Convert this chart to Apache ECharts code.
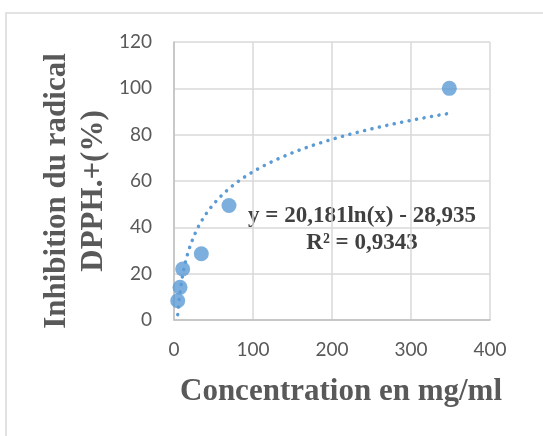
<!DOCTYPE html>
<html>
<head>
<meta charset="utf-8">
<script src="https://cdn.jsdelivr.net/npm/echarts@6/dist/echarts.min.js"></script>
<style>
html, body { margin: 0; padding: 0; background: #fff; }
#chart { width: 543px; height: 436px; }
</style>
</head>
<body>
<div id="chart"></div>
<script>
// concentrations (mg/ml) and inhibition (%)
var concentrations = [4.7, 7.6, 11, 34.6, 69.6, 348.5];
var inhibition = [8.3, 14.1, 22, 28.6, 49.4, 100];
var xTicks = [0, 100, 200, 300, 400];
var yTicks = [0, 20, 40, 60, 80, 100, 120];
// logarithmic trendline, from the equation shown on the chart
var trendCoef = [20.181, -28.935];
var eqText = 'y = 20,181ln(x) - 28,935';
var r2Text = 'R² = 0,9343';
var xTitle = 'Concentration en mg/ml';
var yTitle = ['Inhibition du radical', 'DPPH.+(%)'];

var points = [];
for (var i = 0; i < concentrations.length; i++) {
    points.push([concentrations[i], inhibition[i]]);
}

var xmin = Math.min.apply(null, concentrations);
var xmax = Math.max.apply(null, concentrations);
var trend = [];
for (var k = 0; k <= 200; k++) {
    var x = xmin + (xmax - xmin) * k / 200;
    trend.push([x, trendCoef[0] * Math.log(x) + trendCoef[1]]);
}

var titleFont = { fontFamily: 'Liberation Serif', fontWeight: 'bold', fontSize: 31, fill: '#595959', align: 'center', verticalAlign: 'middle' };
var eqFont = { fontFamily: 'Liberation Serif', fontWeight: 'bold', fontSize: 23, fill: '#404040', align: 'center', verticalAlign: 'middle' };

var chart = echarts.init(document.getElementById('chart'));
chart.setOption({
    animation: false,
    backgroundColor: '#fff',
    grid: { left: 174, right: 53, top: 42, bottom: 116 },
    xAxis: {
        type: 'value',
        min: xTicks[0],
        max: xTicks[xTicks.length - 1],
        interval: 100,
        axisLine: { show: true, lineStyle: { color: '#bfbfbf', width: 1.5 } },
        axisTick: { show: false },
        axisLabel: { fontFamily: 'Lato', fontSize: 19, color: '#595959', margin: 20 },
        splitLine: { show: true, lineStyle: { color: '#d9d9d9', width: 1.5 } }
    },
    yAxis: {
        type: 'value',
        min: yTicks[0],
        max: yTicks[yTicks.length - 1],
        interval: 20,
        axisLine: { show: true, lineStyle: { color: '#bfbfbf', width: 1.5 } },
        axisTick: { show: false },
        axisLabel: { fontFamily: 'Lato', fontSize: 19, color: '#595959', margin: 22 },
        splitLine: { show: true, lineStyle: { color: '#d9d9d9', width: 1.5 } }
    },
    series: [
        {
            type: 'line',
            data: trend,
            showSymbol: false,
            symbol: 'none',
            silent: true,
            lineStyle: { color: '#5b9bd5', width: 3.5, type: [0.1, 7.5], cap: 'round' },
            z: 2
        },
        {
            type: 'scatter',
            data: points,
            symbolSize: 15,
            itemStyle: { color: '#5b9bd5' },
            z: 3
        }
    ],
    graphic: [
        {
            type: 'rect',
            shape: { x: 6, y: 13, width: 560, height: 440 },
            style: { fill: 'none', stroke: '#d9d9d9', lineWidth: 1.5 },
            silent: true,
            z: -1
        },
        { type: 'text', x: 341, y: 392, style: Object.assign({ text: xTitle }, titleFont), silent: true },
        { type: 'text', x: 57, y: 191, rotation: Math.PI / 2, style: Object.assign({ text: yTitle[0] }, titleFont), silent: true },
        { type: 'text', x: 94, y: 191, rotation: Math.PI / 2, style: Object.assign({ text: yTitle[1] }, titleFont), silent: true },
        { type: 'text', x: 362, y: 216, style: Object.assign({ text: eqText }, eqFont), silent: true },
        { type: 'text', x: 362, y: 243, style: Object.assign({ text: r2Text }, eqFont), silent: true }
    ]
});
</script>
</body>
</html>
